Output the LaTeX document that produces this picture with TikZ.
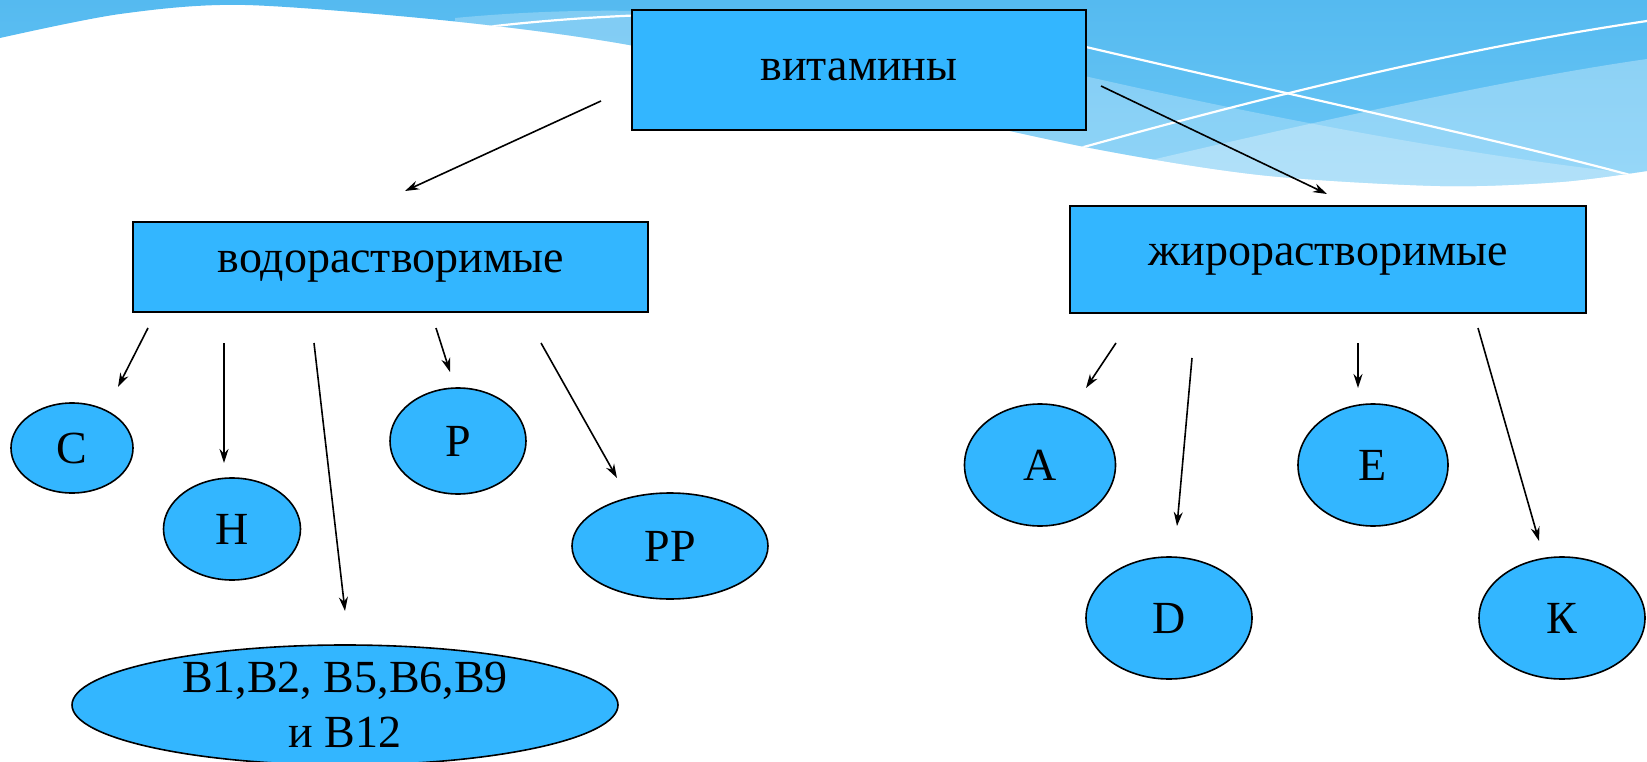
\documentclass[tikz,border=0pt]{standalone}
\usepackage{fontspec}
\setmainfont{Liberation Serif}
\usetikzlibrary{shapes.geometric,arrows.meta}
\definecolor{nodeblue}{HTML}{33B6FF}
\definecolor{skytop}{HTML}{55BAF0}
\definecolor{skylow}{HTML}{6DC8F6}

\begin{document}
\begin{tikzpicture}[x=1pt,y=-1pt,
	box/.style={draw,line width=1.8pt,fill=nodeblue,inner sep=0pt,font=\fontsize{46}{55}\selectfont},
	vit/.style={ellipse,draw,line width=1.6pt,fill=nodeblue,inner sep=0pt,font=\fontsize{46}{55}\selectfont},
	arr/.style={-{Stealth[length=14pt,width=9pt]},line width=1.6pt}]
		\useasboundingbox (0,0) rectangle (1647,762);
		\fill[white] (0,0) rectangle (1647,762);
		% wave at the top
		\begin{scope}
			\clip (0,0) -- plot[smooth] coordinates {(0,38) (120,14) (245,5) (460,22) (640,47) (860,97) (1085,147) (1260,175) (1440,186) (1560,182) (1647,171)} -- (1647,0) -- cycle;
			\shade[top color=skytop,bottom color=skylow] (0,0) rectangle (1647,200);
			\fill[white,opacity=0.25] (455,18) .. controls (700,-5) and (900,30) .. (1080,75) .. controls (1300,125) and (1500,160) .. (1647,175) -- (1647,210) -- (455,210) -- cycle;
			\fill[white,opacity=0.3] (1000,200) -- (1100,172) .. controls (1300,125) and (1500,80) .. (1647,59) -- (1647,210) -- cycle;
			\draw[white,line width=2.2pt] (470,29) .. controls (700,0) and (950,15) .. (1086,47) .. controls (1300,97) and (1500,140) .. (1630,175);
			\draw[white,line width=2.2pt] (1030,162) .. controls (1250,100) and (1450,50) .. (1647,21);
		\end{scope}
		% boxes
		\node[box,minimum width=454pt,minimum height=120pt] (vitamins) at (859,70) {витамины};
		\node[box,minimum width=515pt,minimum height=90pt] (water) at (390.5,267) {водорастворимые};
		\node[box,minimum width=516pt,minimum height=107pt] (fat) at (1328,259.5) {жирорастворимые};
		% water soluble
		\node[vit,minimum width=122pt,minimum height=90pt] (c) at (72,448) {C};
		\node[vit,minimum width=137pt,minimum height=102pt] (h) at (232,529) {H};
		\node[vit,minimum width=546pt,minimum height=120pt,inner ysep=-20pt,align=center] (b) at (345,705) {B1,B2, B5,B6,B9\\и B12};
		\node[vit,minimum width=136pt,minimum height=106pt] (p) at (458,441) {P};
		\node[vit,minimum width=196pt,minimum height=106pt] (pp) at (670,546) {PP};
		% fat soluble
		\node[vit,minimum width=151pt,minimum height=122pt] (a) at (1040,465) {A};
		\node[vit,minimum width=166pt,minimum height=122pt] (d) at (1169,618) {D};
		\node[vit,minimum width=150pt,minimum height=122pt] (e) at (1373,465) {E};
		\node[vit,minimum width=166pt,minimum height=122pt] (k) at (1562,618) {К};
		% arrow ends
		\coordinate (w0) at (601,101);  \coordinate (w1) at (405,191);
		\coordinate (f0) at (1101,86);  \coordinate (f1) at (1327,194);
		\coordinate (c0) at (148,328);  \coordinate (c1) at (118,387);
		\coordinate (h0) at (224,343);  \coordinate (h1) at (224,463);
		\coordinate (b0) at (314,343);  \coordinate (b1) at (345,611);
		\coordinate (p0) at (436,328);  \coordinate (p1) at (450,372);
		\coordinate (pp0) at (541,343); \coordinate (pp1) at (617,478);
		\coordinate (a0) at (1116,343); \coordinate (a1) at (1086,388);
		\coordinate (d0) at (1192,358); \coordinate (d1) at (1177,526);
		\coordinate (e0) at (1358,343); \coordinate (e1) at (1358,388);
		\coordinate (k0) at (1478,328); \coordinate (k1) at (1539,541);
		\draw[arr] (w0) -- (w1);
		\draw[arr] (f0) -- (f1);
		\draw[arr] (c0) -- (c1);
		\draw[arr] (h0) -- (h1);
		\draw[arr] (b0) -- (b1);
		\draw[arr] (p0) -- (p1);
		\draw[arr] (pp0) -- (pp1);
		\draw[arr] (a0) -- (a1);
		\draw[arr] (d0) -- (d1);
		\draw[arr] (e0) -- (e1);
		\draw[arr] (k0) -- (k1);
	\end{tikzpicture}
\end{document}
